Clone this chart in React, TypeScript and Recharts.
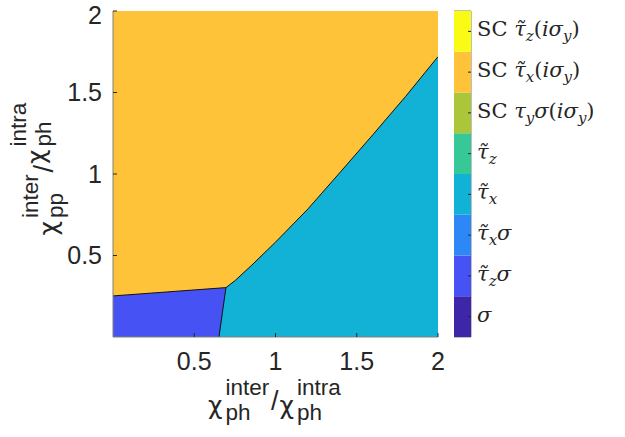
import { ComposedChart, Area, XAxis, YAxis, BarChart, Bar, ReferenceArea } from 'recharts';

const xTicks = [0.5, 1, 1.5, 2];
const yTicks = [0.5, 1, 1.5, 2];

// phase boundaries (x = chi_ph ratio, y = chi_pp ratio)
const scX = [0, 2];
const scY = [2, 2];
const tzsX = [0, 0.695];
const tzsY = [0.252, 0.303];
const txX = [0.652, 0.695, 0.75, 0.85, 1.0, 1.2, 1.4, 1.6, 1.8, 2.0];
const txY = [0, 0.303, 0.345, 0.437, 0.582, 0.786, 1.013, 1.242, 1.475, 1.72];

// colorbar, bottom to top
const bandColors = ['#3E26A8', '#4752F4', '#2D87F7', '#12B1D6', '#37C897', '#ABC739', '#FEC338', '#F9FB14'];
const bandLabels = ['σ', '~τ_zσ', '~τ_xσ', '~τ_x', '~τ_z', 'SC τ_yσ(iσ_y)', 'SC ~τ_x(iσ_y)', 'SC ~τ_z(iσ_y)'];

const ORANGE = bandColors[6];
const CYAN = bandColors[3];
const BLUE = bandColors[1];

const toPoints = (xs: number[], ys: number[]) => xs.map((x, i) => ({ x, y: ys[i] }));
const scData = toPoints(scX, scY);
const tzsData = toPoints(tzsX, tzsY);
const txData = toPoints(txX, txY);

const SANS = '"Liberation Sans", Arial, Helvetica, sans-serif';
const CHI = '"DejaVu Sans", sans-serif';
const SERIF = '"DejaVu Serif", "Liberation Serif", serif';
const INK = '#262626';
const BOX = '#808080';

const BottomTick = (props: any) => {
  const { x, y, payload } = props;
  return (
    <g>
      <line x1={x} x2={x} y1={y} y2={y - 4} stroke={INK} strokeWidth={1} />
      <text x={x} y={y + 33} textAnchor="middle" fontSize={25} fontFamily={SANS} fill={INK}>
        {payload.value}
      </text>
    </g>
  );
};

const LeftTick = (props: any) => {
  const { x, y, payload } = props;
  // the top label sits a little lower so it stays inside the figure
  const nudge = payload.value === 2 ? 4 : 0;
  return (
    <g>
      <line x1={x} x2={x + 4} y1={y} y2={y} stroke={INK} strokeWidth={1} />
      <text x={x - 11} y={y + 8.5 + nudge} textAnchor="end" fontSize={25} fontFamily={SANS} fill={INK}>
        {payload.value}
      </text>
    </g>
  );
};

const TopTick = (props: any) => {
  const { x, y } = props;
  return <line x1={x} x2={x} y1={y} y2={y + 4} stroke={INK} strokeWidth={1} />;
};

const RightTick = (props: any) => {
  const { x, y } = props;
  return <line x1={x} x2={x - 4} y1={y} y2={y} stroke={INK} strokeWidth={1} />;
};

// tiny markup: "~" puts a tilde over the next char, "_" makes the next char a subscript
const renderMath = (label: string) => {
  const out: { t: string; it: boolean; size: number; dy: number }[] = [];
  let shifted = false;
  for (let i = 0; i < label.length; i++) {
    let c = label[i];
    let sub = false;
    let tilde = false;
    if (c === '~') { tilde = true; c = label[++i]; }
    if (c === '_') { sub = true; c = label[++i]; }
    let dy = 0;
    if (sub && !shifted) { dy = 5; shifted = true; }
    else if (!sub && shifted) { dy = -5; shifted = false; }
    out.push({ t: tilde ? c + '\u0303' : c, it: !/[A-Z() ]/.test(c), size: sub ? 15 : 21, dy });
  }
  return out.map((p, i) => (
    <tspan key={i} dy={p.dy} fontStyle={p.it ? 'italic' : 'normal'} fontSize={p.size}>
      {p.t}
    </tspan>
  ));
};

const BandTick = (props: any) => {
  const { x, y, index } = props;
  return (
    <g>
      <line x1={x - 3} x2={x} y1={y} y2={y} stroke={INK} strokeWidth={1} />
      <text x={x + 6} y={y + 5} fontFamily={SERIF} fill={INK} textAnchor="start">
        {renderMath(bandLabels[index])}
      </text>
    </g>
  );
};

const ChiRatio = ({ sub1, sub2, lift = 0 }: { sub1: string; sub2: string; lift?: number }) => (
  <g fontFamily={SANS} fill={INK}>
    <text x={-67.5} y={0} fontSize={25} fontFamily={CHI}>χ</text>
    <text x={-50} y={-19.5} fontSize={22.5}>inter</text>
    <text x={-50} y={6} fontSize={22.5}>{sub1}</text>
    <text x={-4.5} y={-4} fontSize={27}>/</text>
    <g transform={`translate(0,${-lift})`}>
      <text x={4} y={0} fontSize={25} fontFamily={CHI}>χ</text>
      <text x={21.5} y={-19.5} fontSize={22.5}>intra</text>
      <text x={21.5} y={6} fontSize={22.5}>{sub2}</text>
    </g>
  </g>
);

const bandRow = [Object.fromEntries([['name', 'cb'], ...bandColors.map((_, i) => [`b${i}`, 1])])];
const bandTicks = bandLabels.map((_, i) => i + 0.5);

export default function App() {
  return (
    <div style={{ position: 'absolute', left: 0, top: 0, width: 625, height: 437, background: '#fff' }}>
      <div style={{ position: 'absolute', left: 0, top: 0 }}>
        <ComposedChart width={460} height={437} margin={{ top: 11, right: 22, bottom: 40, left: 53 }}>
          <XAxis xAxisId="b" dataKey="x" type="number" domain={[0, 2]} ticks={xTicks} allowDataOverflow
            height={60} tickLine={false} tickSize={0} tickMargin={0} tick={BottomTick} axisLine={{ stroke: BOX }} />
          <XAxis xAxisId="t" orientation="top" dataKey="x" type="number" domain={[0, 2]} ticks={xTicks} allowDataOverflow
            height={0} tickLine={false} tickSize={0} tickMargin={0} tick={TopTick} axisLine={{ stroke: BOX }} />
          <YAxis yAxisId="l" type="number" domain={[0, 2]} ticks={yTicks} allowDataOverflow
            width={60} tickLine={false} tickSize={0} tickMargin={0} tick={LeftTick} axisLine={{ stroke: BOX }} />
          <YAxis yAxisId="r" orientation="right" type="number" domain={[0, 2]} ticks={yTicks} allowDataOverflow
            width={0} tickLine={false} tickSize={0} tickMargin={0} tick={RightTick} axisLine={{ stroke: BOX }} />
          <Area xAxisId="b" yAxisId="l" data={scData} dataKey="y" type="linear" fill={ORANGE} fillOpacity={1}
            stroke="none" isAnimationActive={false} />
          <Area xAxisId="b" yAxisId="l" data={tzsData} dataKey="y" type="linear" fill={BLUE} fillOpacity={1}
            stroke="#111" strokeWidth={1} isAnimationActive={false} />
          <Area xAxisId="b" yAxisId="l" data={txData} dataKey="y" type="linear" fill={CYAN} fillOpacity={1}
            stroke="#111" strokeWidth={1} isAnimationActive={false} />
        </ComposedChart>
      </div>
      <div style={{ position: 'absolute', left: 454, top: 0, width: 142, height: 437, overflow: 'hidden' }}>
        <BarChart width={175} height={437} data={bandRow} barCategoryGap={0} margin={{ top: 11, right: 0, bottom: 100, left: 0 }}>
          <XAxis dataKey="name" hide />
          <YAxis orientation="right" type="number" domain={[0, 8]} ticks={bandTicks} width={158}
            tickLine={false} tickSize={0} tickMargin={0} axisLine={false} tick={BandTick} />
          {bandColors.map((c, i) => (
            <Bar key={i} dataKey={`b${i}`} stackId="cb" fill={c} stroke="none" isAnimationActive={false} />
          ))}
          <ReferenceArea y1={0} y2={8} fill="none" stroke={BOX} strokeWidth={1} />
        </BarChart>
      </div>
      <svg width={625} height={437} style={{ position: 'absolute', left: 0, top: 0, pointerEvents: 'none' }}>
        <g transform="translate(275.5,414)">
          <ChiRatio sub1="ph" sub2="ph" />
        </g>
        <g transform="translate(57,168) rotate(-90)">
          <ChiRatio sub1="pp" sub2="ph" lift={12} />
        </g>
      </svg>
    </div>
  );
}
